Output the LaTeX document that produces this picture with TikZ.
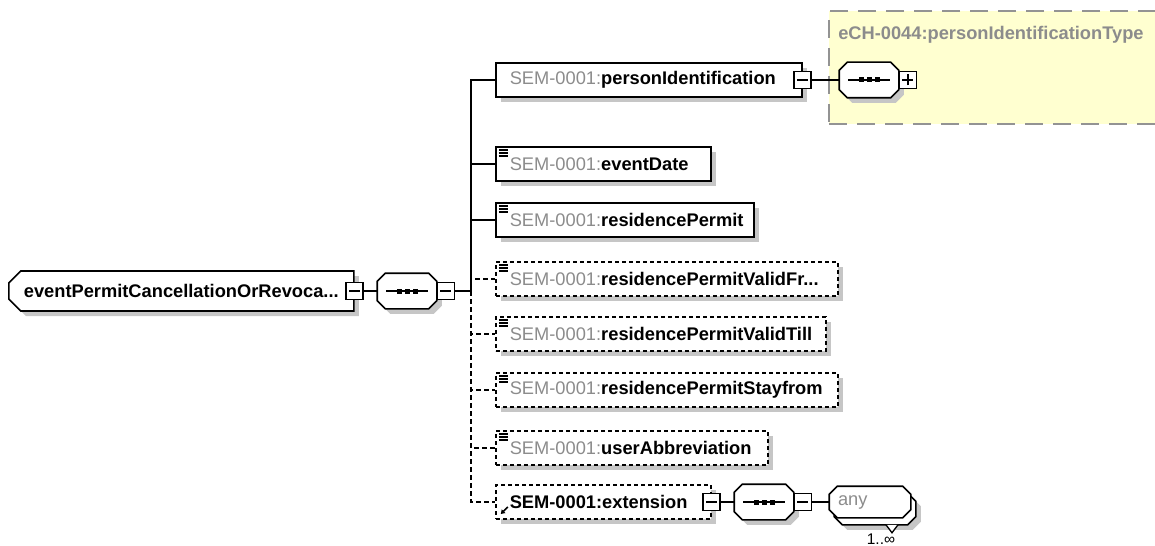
\documentclass[tikz,border=0pt]{standalone}
\usepackage{fontspec}
\setmainfont{Liberation Sans}
\usetikzlibrary{arrows.meta,positioning,shapes.misc,shadows}
\definecolor{prefix}{HTML}{8C8C8C}
\definecolor{shadowgrey}{HTML}{C6C6C6}
\definecolor{typebg}{HTML}{FFFFD0}
\definecolor{typeline}{HTML}{939393}
\newlength{\pxu}
\setlength{\pxu}{0.25mm}
\newdimen\octcut \octcut=8\pxu
\newdimen\octxa \newdimen\octya \newdimen\octxb \newdimen\octyb
\makeatletter
% a rectangle with all four corners cut off
\pgfdeclareshape{octobox}{%
  \inheritsavedanchors[from=rectangle]%
  \inheritanchorborder[from=rectangle]%
  \inheritanchor[from=rectangle]{center}%
  \inheritanchor[from=rectangle]{north}%
  \inheritanchor[from=rectangle]{south}%
  \inheritanchor[from=rectangle]{east}%
  \inheritanchor[from=rectangle]{west}%
  \inheritanchor[from=rectangle]{north east}%
  \inheritanchor[from=rectangle]{north west}%
  \inheritanchor[from=rectangle]{south east}%
  \inheritanchor[from=rectangle]{south west}%
  \backgroundpath{%
    \southwest \octxa=\pgf@x \octya=\pgf@y
    \northeast \octxb=\pgf@x \octyb=\pgf@y
    \pgfpathmoveto{\pgfqpoint{\octxa}{\dimexpr\octya+\octcut\relax}}%
    \pgfpathlineto{\pgfqpoint{\octxa}{\dimexpr\octyb-\octcut\relax}}%
    \pgfpathlineto{\pgfqpoint{\dimexpr\octxa+\octcut\relax}{\octyb}}%
    \pgfpathlineto{\pgfqpoint{\dimexpr\octxb-\octcut\relax}{\octyb}}%
    \pgfpathlineto{\pgfqpoint{\octxb}{\dimexpr\octyb-\octcut\relax}}%
    \pgfpathlineto{\pgfqpoint{\octxb}{\dimexpr\octya+\octcut\relax}}%
    \pgfpathlineto{\pgfqpoint{\dimexpr\octxb-\octcut\relax}{\octya}}%
    \pgfpathlineto{\pgfqpoint{\dimexpr\octxa+\octcut\relax}{\octya}}%
    \pgfpathclose}%
}
\makeatother
\newcommand{\elemlabel}[1]{\mbox{{\color{prefix}SEM-0001:}\textbf{#1}}}
\tikzset{conn/.style={line width=1.5\pxu},
  connopt/.style={conn,dash pattern=on 5\pxu off 3\pxu},
  boxshadow/.style={general shadow={fill=shadowgrey,shadow xshift=5\pxu,shadow yshift=-5\pxu}},
  elembox/.style={rectangle,draw,fill=white,line width=1.6\pxu,anchor=west,minimum height=34\pxu,
    inner xsep=0pt,inner ysep=0pt,align=left,text width=#1,execute at begin node={\hspace*{14\pxu}},boxshadow},
  optbox/.style={elembox=#1,dash pattern=on 4\pxu off 3\pxu},
  simple/.style={path picture={\foreach \k in {0,1,2}
      \draw[line width=1.4\pxu,solid] ([shift={(3,3+3*\k)}]path picture bounding box.north west) -- ++(9,0);}},
  refarrow/.style={path picture={\draw[line width=1.6\pxu,solid,-{Triangle[length=1mm,width=1.25mm]}]
      ([shift={(12,-12)}]path picture bounding box.south west) -- ++(-7,7);}},
  togminus/.style={rectangle,draw,fill=white,line width=1.3\pxu,minimum size=17\pxu,inner sep=0pt,
    path picture={\draw[line width=1.3\pxu] ([xshift=3\pxu]path picture bounding box.west) -- ([xshift=-3\pxu]path picture bounding box.east);}},
  togplus/.style={togminus,
    path picture={\draw[line width=1.3\pxu] ([xshift=3\pxu]path picture bounding box.west) -- ([xshift=-3\pxu]path picture bounding box.east)
      ([yshift=3\pxu]path picture bounding box.south) -- ([yshift=-3\pxu]path picture bounding box.north);}},
  seqbox/.style={octobox,draw,fill=white,line width=1.6\pxu,
    minimum width=58\pxu,minimum height=34\pxu,inner sep=0pt,boxshadow,
    path picture={\draw[line width=1.4\pxu] ([xshift=-21\pxu]path picture bounding box.center) -- ([xshift=21\pxu]path picture bounding box.center);
      \foreach \k in {-8,0,8}
        \fill[black] ([shift={(\k,0)}]path picture bounding box.center) +(-2.5,-2.5) rectangle +(2.5,2.5);}},
  rootbox/.style={chamfered rectangle,chamfered rectangle corners={north west,south west},chamfered rectangle sep=6\pxu,
    draw,fill=white,line width=1.6\pxu,anchor=west,minimum width=345\pxu,minimum height=40\pxu,inner xsep=6\pxu,
    boxshadow,font=\fontsize{13pt}{15pt}\selectfont\bfseries},
  anybox/.style={octobox,draw,fill=white,line width=1.6\pxu,minimum width=80\pxu,minimum height=30\pxu,
    inner sep=0pt,align=left,text width=80\pxu},
  typebox/.style={rectangle,draw=typeline,fill=typebg,line width=2\pxu,dash pattern=on 18\pxu off 10\pxu,
    anchor=north west,minimum width=345\pxu,minimum height=113\pxu},
  typetitle/.style={anchor=north west,inner sep=0pt,text=prefix,font=\fontsize{13pt}{15pt}\selectfont\bfseries}}

\begin{document}
\begin{tikzpicture}[x=0.25mm,y=-0.25mm,font=\fontsize{13pt}{15pt}\selectfont]
\useasboundingbox (0,0) rectangle (1155,546);
% type of personIdentification
\node[typebox] (ptype) at (828,10) {};
\node[typetitle] (ptitle) at (838,26) {eCH-0044:personIdentificationType};
% root and its sequence
\node[rootbox] (root) at (8,291) {eventPermitCancellationOrRevoca...};
\node[togminus] (roottog) at (root.east) {};
\node[seqbox] (seq) at (407,291) {};
\node[togminus,right=0pt of seq] (seqtog) {};
\coordinate (spine) at (471,291);
% children
\node[elembox=306\pxu] (pid) at (495,80) {\elemlabel{personIdentification}};
\node[togminus] (pidtog) at (pid.east) {};
\node[seqbox] (pseq) at (869,80) {};
\node[togplus,right=0pt of pseq] (pseqtog) {};
\node[elembox=215\pxu,simple] (edate) at (495,164) {\elemlabel{eventDate}};
\node[elembox=258\pxu,simple] (rpermit) at (495,220) {\elemlabel{residencePermit}};
\node[optbox=342\pxu,simple] (validfrom) at (495,279) {\elemlabel{residencePermitValidFr...}};
\node[optbox=330\pxu,simple] (validtill) at (495,334) {\elemlabel{residencePermitValidTill}};
\node[optbox=342\pxu,simple] (stayfrom) at (495,390) {\elemlabel{residencePermitStayfrom}};
\node[optbox=272\pxu,simple] (userabbr) at (495,448) {\elemlabel{userAbbreviation}};
\node[optbox=215\pxu,refarrow] (ext) at (495,502) {\mbox{\textbf{SEM-0001:extension}}};
\node[togminus] (exttog) at (ext.east) {};
\node[seqbox] (extseq) at (764,502) {};
\node[togminus,right=0pt of extseq] (extseqtog) {};
% any, 1..unbounded
\node[anybox,boxshadow] (anyback) at (875,509) {};
\node[anybox,text=prefix] (any) at (870,502) {\hspace*{8\pxu}any};
\draw[line width=1.3\pxu,fill=white] ([xshift=11\pxu]anyback.south) -- ++(6,8) -- ++(6,-8);
\node[inner sep=0pt,font=\fontsize{11pt}{13pt}\selectfont] (anyocc) at (881,539) {1..∞};
% connectors
\draw[conn] (roottog.east) -- (seq.west);
\draw[conn] (seqtog.east) -- (spine);
\foreach \c in {pid,edate,rpermit}
  \draw[conn] (spine) |- (\c.west);
\foreach \c in {validfrom,validtill,stayfrom,userabbr,ext}
  \draw[connopt] (spine) |- (\c.west);
\draw[conn] (pidtog.east) -- (pseq.west);
\draw[conn] (exttog.east) -- (extseq.west);
\draw[conn] (extseqtog.east) -- (any.west);
\end{tikzpicture}
\end{document}
